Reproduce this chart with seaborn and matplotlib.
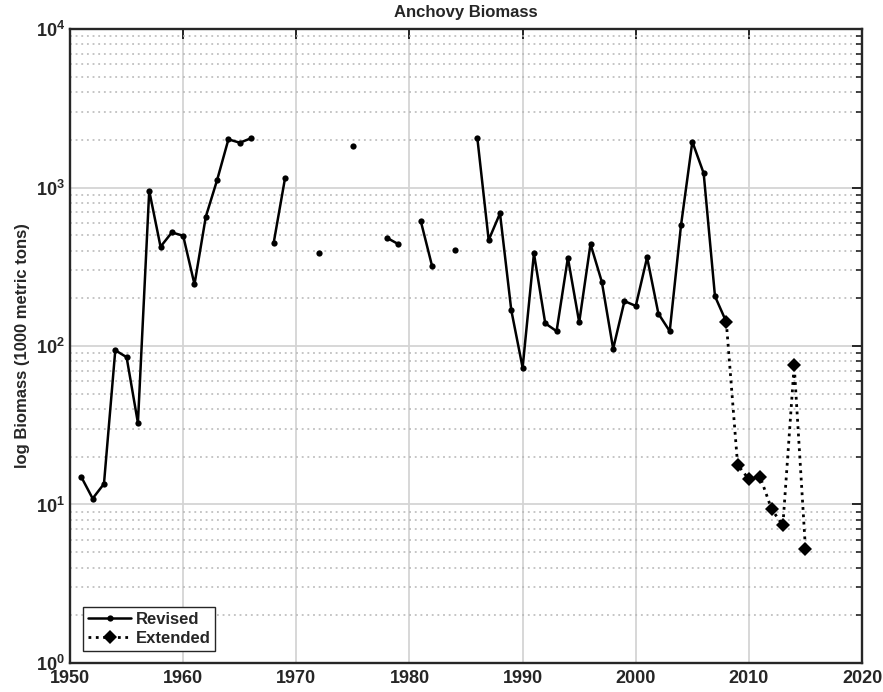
import numpy as np
import pandas as pd
import matplotlib
matplotlib.use("Agg")
import matplotlib.pyplot as plt
import matplotlib.ticker as mticker
import seaborn as sns

nan = np.nan
years_revised = list(range(1951, 2009))
biomass_revised = [
    14.9, 10.9, 13.5, 94, 85, 32.7, 955, 423, 521, 496,      # 1951-1960
    245, 654, 1115, 2015, 1918, 2046, nan, 448, 1143, nan,   # 1961-1970
    nan, 387, nan, nan, 1837, nan, nan, 482, 440, nan,       # 1971-1980
    614, 319, nan, 401, nan, 2046, 466, 687, 168, 73,        # 1981-1990
    384, 139, 124, 360, 141, 440, 254, 96, 192, 179,         # 1991-2000
    362, 160, 124, 579, 1946, 1231, 206, 142,                # 2001-2008
]
years_extended = list(range(2008, 2016))
biomass_extended = [142, 17.8, 14.4, 14.9, 9.35, 7.38, 75.7, 5.2]

sns.set_style("white")
plt.rcParams["font.family"] = ["Liberation Sans", "DejaVu Sans"]
plt.rcParams["font.weight"] = "bold"
plt.rcParams["mathtext.fontset"] = "custom"
plt.rcParams["mathtext.rm"] = "Liberation Sans:bold"
plt.rcParams["mathtext.it"] = "Liberation Sans:bold"
plt.rcParams["mathtext.bf"] = "Liberation Sans:bold"

fig = plt.figure(figsize=(8.83, 6.92), dpi=100)
ax = fig.add_axes([0.0793, 0.042, 0.897, 0.916])

rev = pd.DataFrame({"year": years_revised, "biomass": biomass_revised})
rev["seg"] = rev["biomass"].isna().cumsum()
rev = rev.dropna()
for i, (_, seg) in enumerate(rev.groupby("seg")):
    sns.lineplot(data=seg, x="year", y="biomass", ax=ax, color="black",
                 linewidth=1.8, marker="o", markersize=4.5, markeredgewidth=0,
                 label="Revised" if i == 0 else None, legend=False)

ext = pd.DataFrame({"year": years_extended, "biomass": biomass_extended})
sns.lineplot(data=ext, x="year", y="biomass", ax=ax, color="black",
             linewidth=2.0, linestyle=":", marker="D", markersize=7,
             markeredgewidth=0, label="Extended", legend=False)

ax.set_yscale("log")
ax.set_xlim(1950, 2020)
ax.set_ylim(1, 1e4)
ax.set_xticks(range(1950, 2021, 10))
ax.yaxis.set_major_locator(mticker.LogLocator(base=10, numticks=10))
ax.yaxis.set_minor_locator(mticker.LogLocator(base=10, subs=np.arange(2, 10), numticks=20))
ax.yaxis.set_minor_formatter(mticker.NullFormatter())

ax.grid(which="major", color="#d4d4d4", linestyle="-", linewidth=1.3)
ax.grid(which="minor", axis="y", color="#b5b5b5", linestyle=(0, (1.2, 2.5)), linewidth=1.1)
ax.set_axisbelow(True)

for s in ax.spines.values():
    s.set_visible(True)
    s.set_color("#262626")
    s.set_linewidth(1.7)
ax.tick_params(which="both", direction="in", top=True, right=True, color="#262626")
ax.tick_params(which="major", length=7, width=1.4, labelsize=13)
ax.tick_params(which="minor", length=4, width=1.2)
ax.tick_params(axis="x", which="major", pad=5)
for lab in ax.get_xticklabels():
    lab.set_fontweight("bold")

ax.set_title("Anchovy Biomass", fontsize=12, fontweight="bold", pad=9)
ax.set_xlabel("")
ax.set_ylabel("log Biomass (1000 metric tons)", fontsize=12, fontweight="bold", labelpad=4)

leg = ax.legend(loc="lower left", bbox_to_anchor=(0.0164, 0.019), borderaxespad=0,
                fancybox=False, framealpha=1, edgecolor="#262626", fontsize=12,
                borderpad=0.3, handlelength=2.6, handletextpad=0.25, labelspacing=0.25)
leg.get_frame().set_linewidth(1.0)
for t in leg.get_texts():
    t.set_fontweight("bold")

fig.savefig("out.png", dpi=100)
